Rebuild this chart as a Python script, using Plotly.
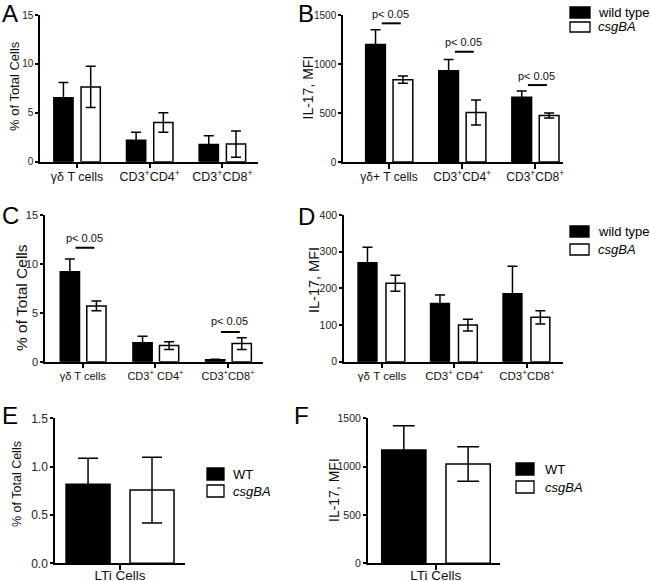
import plotly.graph_objects as go

W, H = 650, 581
FONT = "Arial, 'Liberation Sans', sans-serif"

# ---------------- data ----------------
cat_A = ["γδ T cells", "CD3<sup>+</sup>CD4<sup>+</sup>", "CD3<sup>+</sup>CD8<sup>+</sup>"]
wt_A = [6.55, 2.2, 1.75]
wt_A_err = [1.55, 0.8, 0.9]
ko_A = [7.65, 4.0, 1.8]
ko_A_err = [2.1, 1.0, 1.35]

cat_B = ["γδ+ T cells", "CD3<sup>+</sup>CD4<sup>+</sup>", "CD3<sup>+</sup>CD8<sup>+</sup>"]
wt_B = [1200, 930, 660]
wt_B_err = [150, 115, 65]
ko_B = [840, 505, 475]
ko_B_err = [37, 128, 25]

cat_C = ["γδ T cells", "CD3<sup>+</sup> CD4<sup>+</sup>", "CD3<sup>+</sup>CD8<sup>+</sup>"]
wt_C = [9.2, 1.95, 0.2]
wt_C_err = [1.3, 0.65, 0.05]
ko_C = [5.7, 1.65, 1.85]
ko_C_err = [0.5, 0.4, 0.6]

cat_D = ["γδ T cells", "CD3<sup>+</sup> CD4<sup>+</sup>", "CD3<sup>+</sup>CD8<sup>+</sup>"]
wt_D = [270, 159, 185]
wt_D_err = [42, 23, 75]
ko_D = [214, 100, 121]
ko_D_err = [22, 16, 18]

cat_E = ["LTi Cells"]
wt_E = [0.817]
wt_E_err = [0.27]
ko_E = [0.758]
ko_E_err = [0.34]

cat_F = ["LTi Cells"]
wt_F = [1172]
wt_F_err = [250]
ko_F = [1027]
ko_F_err = [178]

# significance marks: (category index, line value, text value)
sig_B = [(0, 1415, 1510), (1, 1125, 1227), (2, 785, 878)]
sig_C = [(0, 11.66, 12.65), (2, 3.04, 4.16)]

legend_names_BD = ["wild type", "<i>csgBA</i>"]
legend_names_EF = ["WT", "<i>csgBA</i>"]

# ---------------- layout helpers ----------------
def px_x(p):
    return p / W

def px_y(p):
    return 1 - p / H

fig = go.Figure()

panels = [
    dict(cats=cat_A, wt=wt_A, wte=wt_A_err, ko=ko_A, koe=ko_A_err, xd=(40, 258), yd=(161.7, 15),
         xr=[-0.51, 2.49], yr=[0, 15], dt=5, tf=None,
         yt="% of Total Cells", ytpos=(15, 86), ytf=13,
         geo=(-0.32, 0.055, 0.265), cap=5, cf=12.5, yf=10, tso=-2),
    dict(cats=cat_B, wt=wt_B, wte=wt_B_err, ko=ko_B, koe=ko_B_err, xd=(343, 563), yd=(162, 15),
         xr=[-0.63, 2.38], yr=[0, 1500], dt=500, tf=None,
         yt="IL-17, MFI", ytpos=(308, 87.5), ytf=14,
         geo=(-0.32, 0.055, 0.27), cap=5, cf=12, yf=10, tso=-2),
    dict(cats=cat_C, wt=wt_C, wte=wt_C_err, ko=ko_C, koe=ko_C_err, xd=(45, 263), yd=(361.7, 215),
         xr=[-0.52, 2.48], yr=[0, 15], dt=5, tf=None,
         yt="% of Total Cells", ytpos=(21, 298), ytf=15.5,
         geo=(-0.31, 0.055, 0.265), cap=5, cf=11, yf=11, tso=-2),
    dict(cats=cat_D, wt=wt_D, wte=wt_D_err, ko=ko_D, koe=ko_D_err, xd=(344, 563), yd=(361.7, 215),
         xr=[-0.524, 2.497], yr=[0, 400], dt=100, tf=None,
         yt="IL-17, MFI", ytpos=(314, 280), ytf=14.5,
         geo=(-0.33, 0.055, 0.26), cap=5, cf=11.5, yf=10.5, tso=-2),
    dict(cats=cat_E, wt=wt_E, wte=wt_E_err, ko=ko_E, koe=ko_E_err, xd=(55, 185), yd=(563.3, 418.3),
         xr=[-1.0, 1.0], yr=[0, 1.5], dt=0.5, tf=".1f",
         yt="% of Total Cells", ytpos=(17, 484), ytf=12.5,
         geo=(-0.83, 0.154, 0.677), cap=10, cf=13.5, yf=12, tso=-6),
    dict(cats=cat_F, wt=wt_F, wte=wt_F_err, ko=ko_F, koe=ko_F_err, xd=(367.7, 500), yd=(563.3, 418.3),
         xr=[-1.03, 0.974], yr=[0, 1500], dt=500, tf=None,
         yt="IL-17, MFI", ytpos=(334, 490), ytf=14,
         geo=(-0.818, 0.156, 0.67), cap=11, cf=13.5, yf=10.5, tso=-6),
]

for i, p in enumerate(panels, start=1):
    xa = "x" if i == 1 else f"x{i}"
    ya = "y" if i == 1 else f"y{i}"
    wt_off, ko_off, bw = p["geo"]
    fig.add_trace(go.Bar(
        x=p["cats"], y=p["wt"], xaxis=xa, yaxis=ya, name="wild type",
        marker=dict(color="black", line=dict(color="black", width=1.5)),
        offset=wt_off, width=bw,
        error_y=dict(type="data", array=p["wte"], color="black", thickness=1.5, width=p["cap"]),
        showlegend=False,
    ))
    fig.add_trace(go.Bar(
        x=p["cats"], y=p["ko"], xaxis=xa, yaxis=ya, name="csgBA",
        marker=dict(color="white", line=dict(color="black", width=1.5)),
        offset=ko_off, width=bw,
        error_y=dict(type="data", array=p["koe"], color="black", thickness=1.5, width=p["cap"]),
        showlegend=False,
    ))
    xkey = "xaxis" if i == 1 else f"xaxis{i}"
    ykey = "yaxis" if i == 1 else f"yaxis{i}"
    fig.layout[xkey] = dict(
        domain=[px_x(p["xd"][0]), px_x(p["xd"][1])], anchor=ya, type="category",
        range=p["xr"], showline=True, linecolor="black", linewidth=1.5,
        ticks="outside", ticklen=5, tickwidth=1.5, tickcolor="black",
        ticklabelstandoff=p["tso"],
        tickfont=dict(family=FONT, size=p["cf"], color="#111"),
        showgrid=False, zeroline=False, fixedrange=True, automargin=False,
    )
    fig.layout[ykey] = dict(
        domain=[px_y(p["yd"][0]), px_y(p["yd"][1])], anchor=xa,
        range=p["yr"], dtick=p["dt"], tick0=0, showline=True, linecolor="black", linewidth=1.5,
        ticks="outside", ticklen=3, tickwidth=1.5, tickcolor="black",
        tickfont=dict(family=FONT, size=p["yf"], color="#222"),
        tickformat=p["tf"] if p["tf"] else "",
        showgrid=False, zeroline=False, fixedrange=True, automargin=False,
    )
    # y-axis title
    fig.add_annotation(xref="paper", yref="paper", x=px_x(p["ytpos"][0]), y=px_y(p["ytpos"][1]),
                       text=p["yt"], textangle=-90, showarrow=False, xanchor="center", yanchor="middle",
                       font=dict(family=FONT, size=p["ytf"], color="#111"))

# significance lines and labels
def add_sig(xa, ya, items, ymax, hpx):
    for (ci, lv, tv) in items:
        fig.add_shape(type="line", xref=xa, yref=ya, x0=ci - 0.1, x1=ci + 0.16, y0=lv, y1=lv,
                      line=dict(color="black", width=2))
        yv = min(tv, ymax * 0.995)
        fig.add_annotation(xref=xa, yref=ya, x=ci + 0.02, y=yv, text="p< 0.05", showarrow=False,
                           font=dict(family=FONT, size=11, color="#111"), yanchor="middle",
                           yshift=(tv - yv) / ymax * hpx)

add_sig("x2", "y2", sig_B, 1500, 147)
add_sig("x3", "y3", sig_C, 15, 146.7)

# panel letters
letters = [("A", 0, 13.5), ("B", 296, 13.5), ("C", 0, 215), ("D", 296, 216.5), ("E", 0, 415), ("F", 292, 415)]
for t, lx, ly in letters:
    fig.add_annotation(xref="paper", yref="paper", x=px_x(lx), y=px_y(ly), text=t, showarrow=False,
                       xanchor="left", yanchor="middle", font=dict(family=FONT, size=24, color="black"))

# legends (drawn as boxes + text)
def add_legend(names, box_x, box_w, rows, text_x, fs=13):
    fills = ["black", "white"]
    for name, fill, (y0, y1) in zip(names, fills, rows):
        fig.add_shape(type="rect", xref="paper", yref="paper",
                      x0=px_x(box_x), x1=px_x(box_x + box_w), y0=px_y(y1), y1=px_y(y0),
                      fillcolor=fill, line=dict(color="black", width=1.3))
        fig.add_annotation(xref="paper", yref="paper", x=px_x(text_x), y=px_y((y0 + y1) / 2),
                           text=name, showarrow=False, xanchor="left", yanchor="middle",
                           font=dict(family=FONT, size=fs, color="black"))

add_legend(legend_names_BD, 570, 20, [(7, 18), (22, 32)], 596)
add_legend(legend_names_BD, 570, 19, [(226, 237), (244, 255)], 596)
add_legend(legend_names_EF, 207, 17, [(468, 480), (485, 497)], 231)
add_legend(legend_names_EF, 516, 18, [(463, 475), (481, 493)], 543)

fig.update_layout(
    width=W, height=H, margin=dict(l=0, r=0, t=0, b=0),
    paper_bgcolor="white", plot_bgcolor="white", barmode="overlay",
    font=dict(family=FONT, color="black"), showlegend=False,
)

fig.write_html("out.html", config={"displayModeBar": False},
               post_script="document.body.style.margin='0px';")
